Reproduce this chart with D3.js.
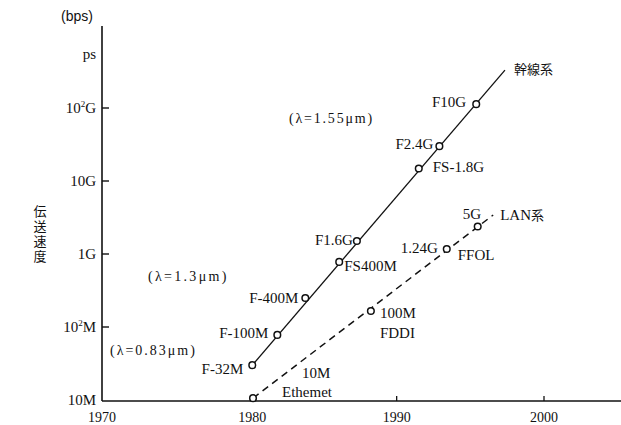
<!DOCTYPE html>
<html><head><meta charset="utf-8">
<script src="https://cdn.jsdelivr.net/npm/d3@7"></script>
<style>
html,body{margin:0;padding:0;background:#fff;}
svg{display:block;}
</style></head>
<body><div id="chart"></div>
<script>
// ---- data (rate in Mbps) ----
const trunkNames  = ["F-32M","F-100M","F-400M","FS400M","F1.6G","FS-1.8G","F2.4G","F10G"];
const trunkYears  = [1980.2, 1981.9, 1983.8, 1986.1, 1987.3, 1991.5, 1992.9, 1995.4];
const trunkRates  = [30, 78, 250, 780, 1510, 14800, 30000, 113000];
const trunkLineYears = [1980.2, 1997.35];
const trunkLineRates = [30, 331000];

const lanNames  = [["10M","Ethemet"],["100M","FDDI"],["1.24G","FFOL"],["5G"]];
const lanYears  = [1980.25, 1988.25, 1993.4, 1995.5];
const lanRates  = [10.6, 166, 1170, 2380];
const lanLineYears = [1980.25, 1996.55];
const lanLineRates = [10.6, 3420];

const xTicks = [1970, 1980, 1990, 2000];
const yTickValues = [10, 100, 1000, 10000, 100000];
const yTickLabels = [["10","","M"],["10","2","M"],["1","","G"],["10","","G"],["10","2","G"]];
const wavelengthNotes = ["(λ=0.83μm)", "(λ=1.3μm)", "(λ=1.55μm)"];

// ---- layout ----
const SERIF = "'Liberation Serif', 'DejaVu Serif', serif";
const CJK = "'Noto Sans CJK JP', 'Noto Sans CJK SC', sans-serif";
const W = 621, H = 425;
const svg = d3.select("#chart").append("svg").attr("width", W).attr("height", H)
  .attr("font-family", SERIF).attr("fill", "#111");
const x = d3.scaleLinear().domain([1970, 2000]).range([102, 544]);
const y = d3.scaleLog().domain([10, 10 * Math.pow(10, 375 / 73)]).range([400, 25]);

function txt(xx, yy, s, size, anchor, fam) {
  return svg.append("text").attr("x", xx).attr("y", yy).attr("font-size", size)
    .attr("text-anchor", anchor || "start").attr("font-family", fam || SERIF)
    .attr("fill", "#111").text(s);
}

// axes
const axX0 = 102, axY0 = 401;
svg.append("line").attr("x1", axX0).attr("x2", axX0).attr("y1", 26).attr("y2", axY0)
  .attr("stroke", "#111").attr("stroke-width", 1.6);
svg.append("line").attr("x1", axX0).attr("x2", W).attr("y1", axY0).attr("y2", axY0)
  .attr("stroke", "#111").attr("stroke-width", 1.6);

// y ticks (inward)
yTickValues.forEach((v, i) => {
  const yy = y(v);
  if (i > 0) svg.append("line").attr("x1", axX0).attr("x2", axX0 + 7).attr("y1", yy).attr("y2", yy)
      .attr("stroke", "#111").attr("stroke-width", 1.4);
  const t = txt(96, yy + 5, null, 15, "end");
  const [a, sup, b] = yTickLabels[i];
  t.append("tspan").text(a);
  if (sup) t.append("tspan").attr("font-size", 9).attr("dy", -6).text(sup);
  t.append("tspan").attr("dy", sup ? 6 : 0).text(b);
});
txt(96, 59, "ps", 15, "end");
txt(93, 21, "(bps)", 14, "end", "'Liberation Sans', Arial, sans-serif");

// x ticks (inward, upward)
xTicks.forEach((v, i) => {
  if (i > 1) svg.append("line").attr("x1", x(v)).attr("x2", x(v)).attr("y1", axY0).attr("y2", axY0 - 5)
      .attr("stroke", "#111").attr("stroke-width", 1.3);
  txt(x(v) + (i === 1 ? 3 : 0), 422, v, 14, "middle");
});

// y-axis title (vertical Japanese)
txt(40, 205, "伝送速度", 13, "start", CJK)
  .style("writing-mode", "vertical-rl").attr("letter-spacing", 2);

// lines
const line = d3.line().x(d => x(d[0])).y(d => y(d[1]));
svg.append("path").datum(trunkLineYears.map((v, i) => [v, trunkLineRates[i]]))
  .attr("d", line).attr("fill", "none").attr("stroke", "#111").attr("stroke-width", 1.3);
svg.append("path").datum(lanLineYears.map((v, i) => [v, lanLineRates[i]]))
  .attr("d", line).attr("fill", "none").attr("stroke", "#111").attr("stroke-width", 1.5)
  .attr("stroke-dasharray", "7,5");

// markers
function markers(years, rates) {
  svg.append("g").selectAll("circle").data(years.map((v, i) => [v, rates[i]])).join("circle")
    .attr("cx", d => x(d[0])).attr("cy", d => y(d[1])).attr("r", 3.3)
    .attr("fill", "#fff").attr("stroke", "#111").attr("stroke-width", 1.5);
}
markers(trunkYears, trunkRates);
markers(lanYears, lanRates);

// point labels: [anchor, dx, dy]
const trunkLabelPos = [["end",-9,9],["end",-9,3],["end",-7,5],["start",5,9],["end",-4,4],["start",14,3.5],["end",-6,3],["end",-10,3]];
trunkNames.forEach((n, i) => {
  const [a, dx, dy] = trunkLabelPos[i];
  txt(x(trunkYears[i]) + dx, y(trunkRates[i]) + dy, n, 15, a);
});
const lanLabelPos = [[["start",49,-20],["start",29,-1]],[["start",9,7],["start",9,27]],[["end",-9,4],["start",11,11]],[["end",3.5,-7.5]]];
lanNames.forEach((ns, i) => {
  ns.forEach((n, j) => {
    const [a, dx, dy] = lanLabelPos[i][j];
    txt(x(lanYears[i]) + dx, y(lanRates[i]) + dy, n, 15, a);
  });
});

// series names
const te = trunkLineYears.length - 1, le = lanLineYears.length - 1;
txt(x(trunkLineYears[te]) + 9, y(trunkLineRates[te]) + 4, "幹線系", 13, "start", CJK);
txt(x(lanLineYears[le]) + 7, y(lanLineRates[le]) + 5, "LAN", 15, "start")
  .append("tspan").attr("font-size", 13).attr("font-family", CJK).text("系");

// wavelength notes
const notePos = [[110, 355, 2], [148, 281, 2.3], [289, 123, 1.8]];
wavelengthNotes.forEach((n, i) => {
  txt(notePos[i][0], notePos[i][1], n, 14, "start").attr("letter-spacing", notePos[i][2]);
});
</script></body></html>
